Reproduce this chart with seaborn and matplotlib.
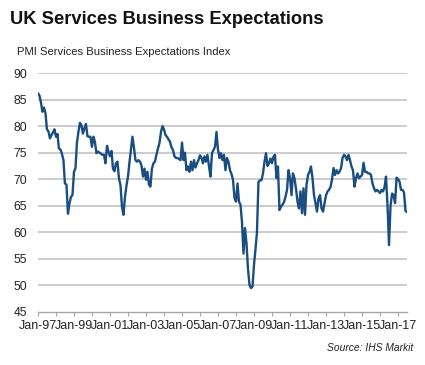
import matplotlib
matplotlib.use("Agg")
import matplotlib.pyplot as plt
import matplotlib.dates as mdates
from matplotlib.ticker import FuncFormatter, FixedLocator
import seaborn as sns
import pandas as pd

# ---- data (monthly, Jan-1997 onwards) ----
start_month = "1997-01-01"
expectations = [
    86.2, 85.7, 84.5, 82.7, 83.5, 82.5, 79.4, 79.0, 77.7, 78.3, 78.8, 79.4,   # 1997
    78.0, 78.5, 75.8, 75.6, 74.8, 73.6, 69.2, 69.0, 63.5, 65.4, 66.7, 67.0,   # 1998
    71.4, 72.1, 76.8, 78.9, 80.6, 80.2, 78.6, 79.6, 80.4, 78.1, 78.0, 78.0,   # 1999
    76.1, 78.0, 77.0, 74.9, 75.2, 75.0, 74.8, 74.6, 74.6, 73.0, 76.3, 75.2,   # 2000
    74.3, 75.3, 72.0, 71.5, 73.0, 73.3, 70.2, 68.9, 64.8, 63.3, 66.7, 68.8,   # 2001
    70.5, 73.3, 75.5, 78.0, 76.0, 73.6, 73.3, 73.6, 73.3, 72.6, 70.5, 72.0,   # 2002
    69.9, 71.4, 69.0, 68.6, 72.0, 73.0, 73.3, 74.6, 75.8, 76.8, 78.9, 80.0,   # 2003
    79.4, 78.3, 78.0, 77.5, 77.1, 76.0, 75.5, 74.3, 74.0, 74.0, 73.8, 73.6,   # 2004
    76.9, 73.6, 75.0, 71.7, 72.4, 71.4, 73.3, 71.7, 73.6, 72.2, 73.0, 73.6,   # 2005
    74.5, 74.0, 73.0, 74.3, 73.3, 74.6, 72.5, 70.5, 74.9, 75.5, 76.1, 78.9,   # 2006
    75.5, 74.0, 74.9, 73.6, 74.6, 71.7, 74.0, 73.3, 71.7, 71.0, 69.9, 66.5,   # 2007
    65.8, 69.2, 65.8, 65.2, 62.0, 56.0, 60.8, 57.9, 53.0, 50.1, 49.5, 49.8,   # 2008
    54.0, 57.0, 60.0, 69.5, 69.8, 69.8, 71.1, 73.3, 74.9, 72.5, 73.0, 73.9,   # 2009
    73.0, 74.3, 74.6, 70.2, 72.4, 64.2, 64.8, 65.2, 65.7, 66.7, 68.0, 71.7,   # 2010
    70.2, 67.0, 71.1, 70.2, 68.3, 65.8, 64.5, 67.7, 63.6, 68.3, 63.3, 68.9,   # 2011
    70.8, 71.4, 72.4, 70.2, 67.0, 65.5, 63.9, 66.4, 67.0, 64.5, 63.9, 65.5,   # 2012
    67.0, 67.7, 68.0, 68.5, 69.9, 72.1, 70.8, 71.7, 71.1, 71.4, 72.1, 74.0,   # 2013
    74.6, 74.3, 73.6, 74.6, 73.6, 72.4, 71.7, 68.6, 70.2, 71.1, 70.2, 70.5,   # 2014
    70.8, 73.1, 71.4, 71.4, 71.1, 71.1, 70.8, 69.2, 68.3, 67.7, 68.0, 67.7,   # 2015
    67.4, 68.0, 67.7, 68.5, 70.5, 65.0, 57.6, 65.0, 67.3, 67.0, 65.5, 70.3,   # 2016
    70.0, 69.5, 68.0, 68.0, 67.5, 64.0, 63.8,                                 # 2017
]
y_ticks = [45, 50, 55, 60, 65, 70, 75, 80, 85, 90]
title = "UK Services Business Expectations"
subtitle = "PMI Services Business Expectations Index"
source = "Source: IHS Markit"

dates = pd.date_range(start_month, periods=len(expectations), freq="MS")
df = pd.DataFrame({"date": dates, "value": expectations})

sns.set_theme(style="white")
plt.rcParams["font.family"] = ["Liberation Sans", "DejaVu Sans"]

fig = plt.figure(figsize=(4.25, 3.65), dpi=100)
ax = fig.add_axes([38 / 425, 1 - 312 / 365, (407 - 38) / 425, (312 - 73) / 365])

grid_col = "#c8c8c8"
for yv in y_ticks[1:]:
    ax.axhline(yv, color=grid_col, lw=1.3, zorder=1)

sns.lineplot(data=df, x="date", y="value", ax=ax, color="#1a4e80", lw=1.7, zorder=3)

ax.set_ylim(45, 90)
ax.set_xlim(dates[0], dates[-1])
ax.set_yticks(y_ticks)
ax.set_yticklabels([str(v) for v in y_ticks])
ax.set_xlabel("")
ax.set_ylabel("")

year_ticks = [mdates.date2num(pd.Timestamp(year=y, month=1, day=1)) for y in range(1997, 2018)]
ax.xaxis.set_major_locator(FixedLocator(year_ticks))
ax.xaxis.set_major_formatter(FuncFormatter(
    lambda v, p: mdates.num2date(v).strftime("Jan-%y") if mdates.num2date(v).year % 2 == 1 else ""))

for s in ["top", "right", "left"]:
    ax.spines[s].set_visible(False)
ax.spines["bottom"].set_color("#a6a6a6")
ax.spines["bottom"].set_linewidth(1.0)

ax.tick_params(axis="x", which="major", direction="out", length=3, width=0.8,
               color="#a6a6a6", labelsize=9.0, pad=2.5, labelcolor="#222222", bottom=True)
ax.tick_params(axis="y", length=0, labelsize=8.8, pad=8, labelcolor="#222222")

fig.text(10 / 425, 1 - 20 / 365, title, fontsize=13.2, fontweight="bold",
         va="center", ha="left", color="#111111")
fig.text(17 / 425, 1 - 52 / 365, subtitle, fontsize=8.1, va="center", ha="left", color="#222222")
fig.text(413 / 425, 1 - 348 / 365, source, fontsize=7.4, style="italic",
         va="center", ha="right", color="#222222")

fig.savefig("out.png", dpi=100)
